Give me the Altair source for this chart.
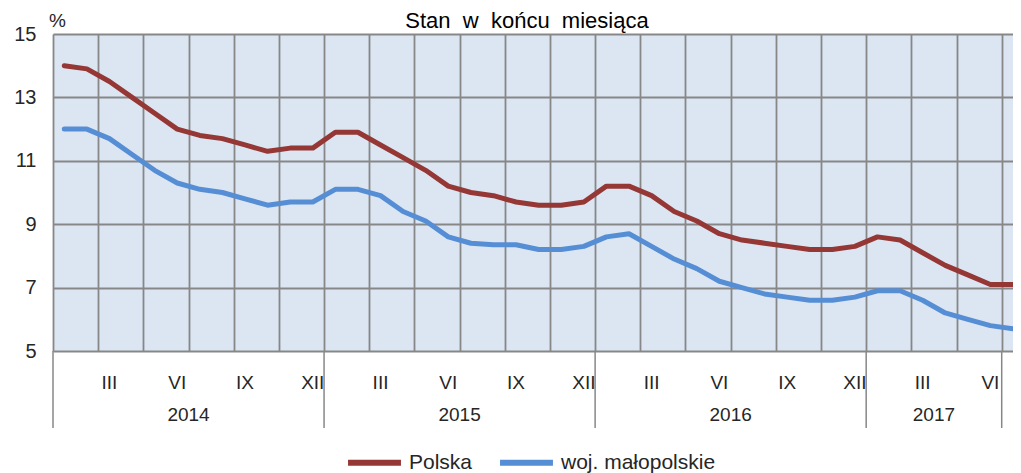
import altair as alt
import pandas as pd

# ---- data ----
years = [2014] * 12 + [2015] * 12 + [2016] * 12 + [2017] * 7
months = list(range(1, 13)) * 3 + list(range(1, 8))
polska = [14.0, 13.9, 13.5, 13.0, 12.5, 12.0, 11.8, 11.7, 11.5, 11.3, 11.4, 11.4,
          11.9, 11.9, 11.5, 11.1, 10.7, 10.2, 10.0, 9.9, 9.7, 9.6, 9.6, 9.7,
          10.2, 10.2, 9.9, 9.4, 9.1, 8.7, 8.5, 8.4, 8.3, 8.2, 8.2, 8.3,
          8.6, 8.5, 8.1, 7.7, 7.4, 7.1, 7.1]
malopolskie = [12.0, 12.0, 11.7, 11.2, 10.7, 10.3, 10.1, 10.0, 9.8, 9.6, 9.7, 9.7,
               10.1, 10.1, 9.9, 9.4, 9.1, 8.6, 8.4, 8.35, 8.35, 8.2, 8.2, 8.3,
               8.6, 8.7, 8.3, 7.9, 7.6, 7.2, 7.0, 6.8, 6.7, 6.6, 6.6, 6.7,
               6.9, 6.9, 6.6, 6.2, 6.0, 5.8, 5.7]
series = ["Polska", "woj. małopolskie"]
colors = ["#953735", "#558ed5"]
roman = {3: "III", 6: "VI", 9: "IX", 12: "XII"}
y_ticks = [5, 7, 9, 11, 13, 15]
title_text = "Stan\u00a0 w\u00a0 końcu\u00a0 miesiąca"
unit_text = "%"

FONT = "Liberation Sans"
TXT = "#262626"
GRID = "#878787"
BG = "#dce6f2"
W, H = 960, 317

n = len(months)
shown = n - 1  # last month is only partly visible at the right edge

rows = []
for i in range(n):
    rows.append({"t": i + 0.5, "value": polska[i], "series": series[0]})
    rows.append({"t": i + 0.5, "value": malopolskie[i], "series": series[1]})
df = pd.DataFrame(rows)

lab = pd.DataFrame([{"t": i + 0.5, "label": roman[m]}
                    for i, m in enumerate(months) if m in roman])

ystarts = {}
for i, y in enumerate(years):
    ystarts.setdefault(y, i)
ylist = sorted(ystarts)
yrows, bounds = [], []
for k, y in enumerate(ylist):
    s = ystarts[y]
    e = ystarts[ylist[k + 1]] if k + 1 < len(ylist) else shown
    yrows.append({"c": (s + e) / 2, "label": str(y)})
    bounds.append(s)
bounds.append(shown)
ydf = pd.DataFrame(yrows)
bdf = pd.DataFrame({"b": bounds})

xscale = alt.Scale(domain=[0, n - 0.5], nice=False, zero=False)
yscale = alt.Scale(domain=[5, 15], nice=False, zero=False)

lines = alt.Chart(df).mark_line(strokeWidth=5, strokeCap="round", strokeJoin="round").encode(
    x=alt.X("t:Q", scale=xscale,
            axis=alt.Axis(values=list(range(0, n)), grid=True, labels=False, ticks=False,
                          domain=False, title=None, gridColor=GRID, gridWidth=1.8)),
    y=alt.Y("value:Q", scale=yscale,
            axis=alt.Axis(values=y_ticks, grid=True, gridColor=GRID, gridWidth=1.8,
                          ticks=False, domain=False, labelFontSize=20, labelColor=TXT,
                          labelPadding=17, labelFont=FONT,
                          title=unit_text, titleAngle=0, titleX=4, titleY=-14,
                          titleAlign="center", titleBaseline="middle",
                          titleFontSize=19, titleFontWeight="normal", titleColor=TXT,
                          titleFont=FONT)),
    color=alt.Color("series:N", scale=alt.Scale(domain=series, range=colors),
                    legend=alt.Legend(orient="none", legendX=292, legendY=399,
                                      direction="horizontal", title=None,
                                      symbolType="stroke", symbolStrokeWidth=6,
                                      symbolSize=2800, labelFontSize=21,
                                      labelFont=FONT, labelColor=TXT,
                                      labelOffset=5, columnPadding=15)),
)

seps = alt.Chart(bdf).mark_rule(color=GRID, strokeWidth=1.5).encode(
    x=alt.X("b:Q", scale=xscale), y=alt.value(H), y2=alt.value(H + 77))

mlab = alt.Chart(lab).mark_text(fontSize=19, font=FONT, color=TXT, baseline="middle").encode(
    x=alt.X("t:Q", scale=xscale), y=alt.value(H + 32), text="label:N")

ylab = alt.Chart(ydf).mark_text(fontSize=19, font=FONT, color=TXT, baseline="middle").encode(
    x=alt.X("c:Q", scale=xscale), y=alt.value(H + 64), text="label:N")

title = alt.Chart(pd.DataFrame({"txt": [title_text]})).mark_text(
    fontSize=22, font=FONT, color="#000000", baseline="alphabetic").encode(
    x=alt.value(W / 2 - 6), y=alt.value(-6), text="txt:N")

chart = alt.layer(lines, seps, mlab, ylab, title).properties(
    width=W, height=H,
    autosize=alt.AutoSizeParams(type="none"),
    padding={"left": 45, "top": 26, "right": 0, "bottom": 122},
    background="white",
    view=alt.ViewBackground(fill=BG, stroke=None),
).configure_view(fill=BG, stroke=None).configure(font=FONT)

chart.save("out.html", embed_options={"renderer": "svg", "actions": False})
